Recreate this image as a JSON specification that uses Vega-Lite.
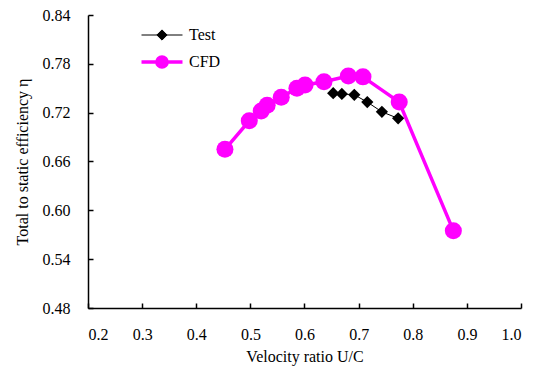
{
  "$schema": "https://vega.github.io/schema/vega-lite/v6.json",
  "width": 433,
  "height": 293,
  "autosize": {"type": "none"},
  "padding": {"left": 88, "top": 15, "right": 16, "bottom": 61},
  "background": "white",
  "config": {
    "view": {"stroke": null},
    "font": "Liberation Serif, Times New Roman, serif",
    "style": {
      "guide-label": {"font": "Liberation Serif, Times New Roman, serif"},
      "guide-title": {"font": "Liberation Serif, Times New Roman, serif"}
    },
    "axis": {
      "labelFont": "Liberation Serif, Times New Roman, serif",
      "titleFont": "Liberation Serif, Times New Roman, serif",
      "labelColor": "black",
      "titleColor": "black",
      "titleFontWeight": "normal",
      "domainColor": "black",
      "domainWidth": 1.5,
      "tickColor": "black",
      "tickWidth": 1.5,
      "grid": false
    }
  },
  "data": {
    "values": [
      {"series": "CFD", "u": 0.453, "eta": 0.675},
      {"series": "CFD", "u": 0.498, "eta": 0.710},
      {"series": "CFD", "u": 0.520, "eta": 0.722},
      {"series": "CFD", "u": 0.531, "eta": 0.729},
      {"series": "CFD", "u": 0.557, "eta": 0.739},
      {"series": "CFD", "u": 0.586, "eta": 0.750},
      {"series": "CFD", "u": 0.601, "eta": 0.754},
      {"series": "CFD", "u": 0.636, "eta": 0.758},
      {"series": "CFD", "u": 0.681, "eta": 0.765},
      {"series": "CFD", "u": 0.708, "eta": 0.764},
      {"series": "CFD", "u": 0.775, "eta": 0.733},
      {"series": "CFD", "u": 0.875, "eta": 0.575},
      {"series": "Test", "u": 0.653, "eta": 0.744},
      {"series": "Test", "u": 0.669, "eta": 0.743},
      {"series": "Test", "u": 0.692, "eta": 0.742},
      {"series": "Test", "u": 0.716, "eta": 0.733},
      {"series": "Test", "u": 0.743, "eta": 0.721},
      {"series": "Test", "u": 0.773, "eta": 0.713}
    ]
  },
  "encoding": {
    "x": {
      "field": "u", "type": "quantitative",
      "scale": {"domain": [0.2, 1.0], "nice": false, "zero": false},
      "axis": {"values": [0.2, 0.3, 0.4, 0.5, 0.6, 0.7, 0.8, 0.9, 1.0], "format": ".1f", "tickSize": -5, "labelPadding": 23, "labelFont": "Liberation Serif, Times New Roman, serif", "labelFontSize": 16, "titleFont": "Liberation Serif, Times New Roman, serif", "titleFontSize": 16, "title": "Velocity ratio U/C", "titlePadding": 6}
    },
    "y": {
      "field": "eta", "type": "quantitative",
      "scale": {"domain": [0.48, 0.84], "nice": false, "zero": false},
      "axis": {"values": [0.48, 0.54, 0.60, 0.66, 0.72, 0.78, 0.84], "format": ".2f", "tickSize": -5, "labelPadding": 23, "labelFont": "Liberation Serif, Times New Roman, serif", "labelFontSize": 16, "titleFont": "Liberation Serif, Times New Roman, serif", "titleFontSize": 16, "title": "Total to static efficiency η", "titlePadding": 12}
    },
    "color": {
      "field": "series", "type": "nominal",
      "scale": {"domain": ["Test", "CFD"], "range": ["black", "#ff00ff"]},
      "legend": {
        "title": null,
        "orient": "none",
        "legendX": 62,
        "legendY": 9,
        "labelFont": "Liberation Serif, Times New Roman, serif",
        "labelFontSize": 16,
        "labelColor": "black",
        "symbolSize": 420,
        "labelOffset": 15,
        "rowPadding": 6,
        "symbolOpacity": 1,
        "encode": {
          "symbols": {
            "update": {
              "shape": [
                {"test": "datum.value === 'Test'", "value": "M-2,0L2,0M0,-0.5L0.5,0L0,0.5L-0.5,0Z"},
                {"value": "M-2,0L2,0M0.5,0A0.5,0.5 0 1,1 -0.5,0A0.5,0.5 0 1,1 0.5,0Z"}
              ],
              "strokeWidth": [
                {"test": "datum.value === 'Test'", "value": 1},
                {"value": 3.5}
              ],
              "fill": [
                {"test": "datum.value === 'Test'", "value": "black"},
                {"value": "#ff00ff"}
              ],
              "stroke": [
                {"test": "datum.value === 'Test'", "value": "black"},
                {"value": "#ff00ff"}
              ]
            }
          }
        }
      }
    }
  },
  "layer": [
    {
      "mark": {"type": "line"},
      "encoding": {
        "strokeWidth": {
          "field": "series", "type": "nominal",
          "scale": {"domain": ["Test", "CFD"], "range": [1, 3.5]},
          "legend": null
        }
      }
    },
    {
      "transform": [{"filter": "datum.series === 'Test'"}],
      "mark": {"type": "point", "filled": true, "opacity": 1, "shape": "diamond", "size": 150}
    },
    {
      "transform": [{"filter": "datum.series === 'CFD'"}],
      "mark": {"type": "point", "filled": true, "opacity": 1, "shape": "circle", "size": 290}
    }
  ]
}
